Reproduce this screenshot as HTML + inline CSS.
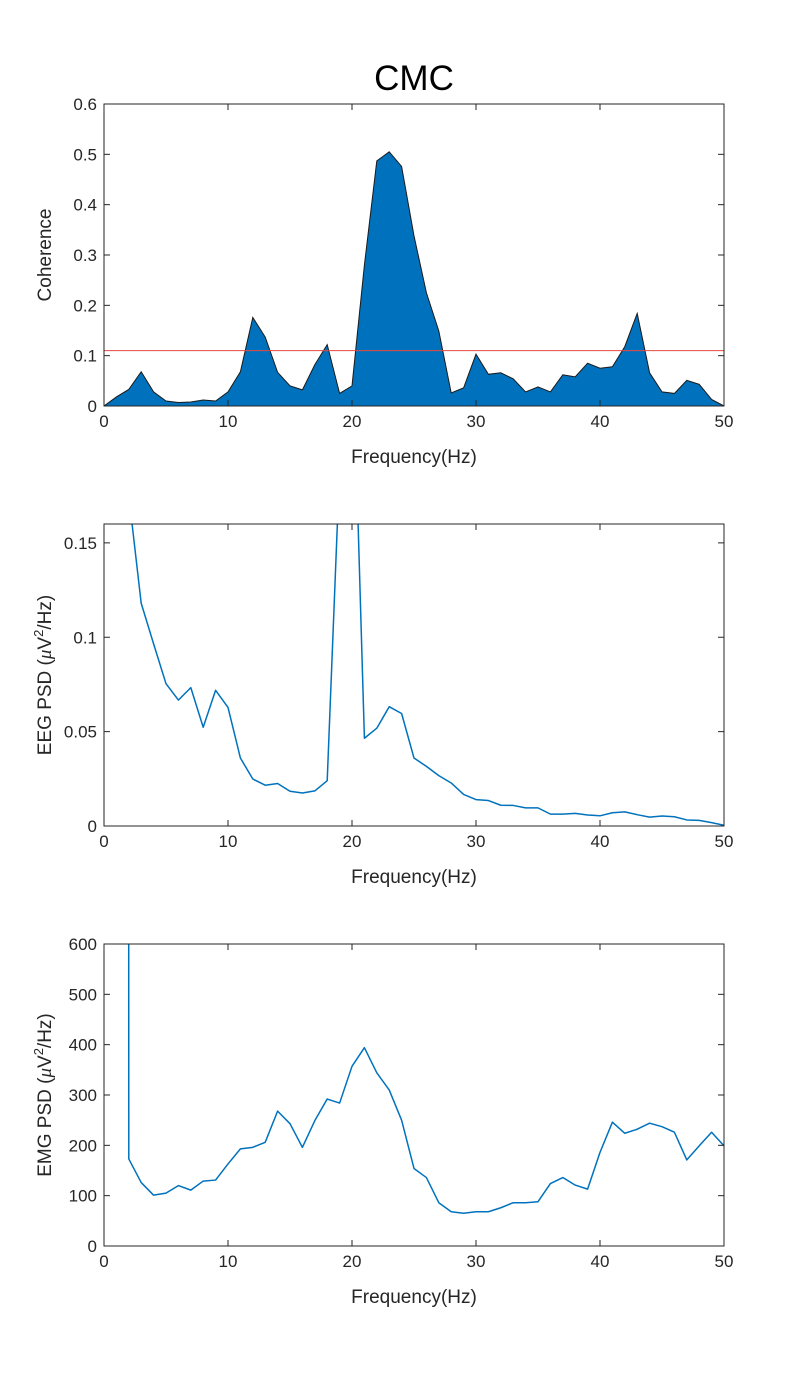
<!DOCTYPE html>
<html><head><meta charset="utf-8"><style>
body{margin:0;background:#fff;}
svg{display:block;font-family:"Liberation Sans",Helvetica,Arial,sans-serif;}
</style></head><body>
<svg id="fig" width="800" height="1400" viewBox="0 0 800 1400">
<rect width="800" height="1400" fill="#fff"/>
<text x="414" y="90" font-size="35" text-anchor="middle">CMC</text>
</svg>
<script>
const freqs = Array.from({length:51},(_,i)=>i);
const coherence = [0,0.018,0.033,0.068,0.028,0.01,0.007,0.008,0.012,0.01,0.028,0.068,0.176,0.137,0.067,0.04,0.032,0.082,0.122,0.025,0.04,0.28,0.487,0.505,0.476,0.338,0.225,0.149,0.026,0.036,0.103,0.063,0.066,0.054,0.028,0.038,0.028,0.062,0.058,0.085,0.075,0.078,0.118,0.184,0.066,0.028,0.025,0.051,0.043,0.013,0];
const threshold = 0.11;
const eegPsd = [0.6,0.3,0.175,0.118,0.0965,0.0754,0.0667,0.0733,0.0523,0.0719,0.0628,0.036,0.0249,0.0216,0.0225,0.0184,0.0175,0.0186,0.024,0.19,0.27,0.0465,0.0518,0.0632,0.0596,0.036,0.0316,0.0267,0.0228,0.0167,0.014,0.0135,0.011,0.0109,0.0096,0.0096,0.0063,0.0063,0.0067,0.0058,0.0054,0.007,0.0075,0.006,0.0047,0.0053,0.0049,0.0032,0.003,0.0018,0.0004];
const emgPsd = [60000,60000,173,126,101,105,120,111,129,131,163,193,196,206,268,243,196,249,292,284,357,394,344,310,250,154,136,86,68,65,68,68,76,86,86,88,124,136,121,113,186,246,224,232,244,237,226,171,199,226,199];
const xTicks = [0,10,20,30,40,50];
const cohTicks = [0,0.1,0.2,0.3,0.4,0.5,0.6];
const eegTicks = [0,0.05,0.1,0.15];
const emgTicks = [0,100,200,300,400,500,600];

const NS="http://www.w3.org/2000/svg";
const svg=document.getElementById('fig');
function el(tag,attrs,parent){const e=document.createElementNS(NS,tag);for(const k in attrs)e.setAttribute(k,attrs[k]);(parent||svg).appendChild(e);return e;}

function panel(name,top,yMax,yTicks,yLabelFn,drawFn){
  const L=104,R=724,T=top,B=top+302;
  const g=el('g',{});
  
  
  const xs=v=>L+(v-0)/(50-0)*(R-L);
  const ys=v=>B-v/yMax*(B-T);
  const clip=el('clipPath',{id:name+'-clip'},g);
  el('rect',{x:L,y:T,width:R-L,height:B-T},clip);
  const plot=el('g',{'clip-path':'url(#'+name+'-clip)'},g);
  drawFn(plot,xs,ys);
  const box=el('rect',{x:L,y:T,width:R-L,height:B-T,fill:'none',stroke:'#262626','stroke-width':1},g);
  
  
  xTicks.forEach(t=>{
    const x=xs(t);
    el('line',{x1:x,x2:x,y1:B,y2:B-6,stroke:'#262626'},g);
    el('line',{x1:x,x2:x,y1:T,y2:T+6,stroke:'#262626'},g);
    const tx=el('text',{x:x,y:B+21,'font-size':17,'text-anchor':'middle',fill:'#262626'},g);
    tx.textContent=t;
    
    
  });
  yTicks.forEach(t=>{
    const y=ys(t);
    el('line',{x1:L,x2:L+6,y1:y,y2:y,stroke:'#262626'},g);
    el('line',{x1:R,x2:R-6,y1:y,y2:y,stroke:'#262626'},g);
    const ty=el('text',{x:L-7,y:y+6,'font-size':17,'text-anchor':'end',fill:'#262626'},g);
    ty.textContent=t;
    
    
  });
  const xl=el('text',{x:414,y:B+57,'font-size':19,'text-anchor':'middle',fill:'#262626'},g);
  xl.textContent='Frequency(Hz)';
  
  
  const yl=el('text',{x:0,y:0,'font-size':19,'text-anchor':'middle',fill:'#262626',transform:'translate(51,'+((T+B)/2)+') rotate(-90)'},g);
  
  
  yLabelFn(yl);
}
function psdLabel(prefix){return function(t){
  const a=el('tspan',{},t);a.textContent=prefix+' PSD (';
  const m=el('tspan',{'font-family':'"Liberation Serif",serif','font-style':'italic'},t);m.textContent='μ';
  const b=el('tspan',{},t);b.textContent='V';
  const s=el('tspan',{'font-size':13,dy:-8},t);s.textContent='2';
  const c=el('tspan',{dy:8},t);c.textContent='/Hz)';
};}

panel('coherence-panel',104,0.6,cohTicks,t=>{t.textContent='Coherence';},(p,xs,ys)=>{
  let d='M'+xs(freqs[0])+','+ys(0);
  freqs.forEach((f,i)=>{d+=' L'+xs(f)+','+ys(coherence[i]);});
  d+=' L'+xs(freqs[freqs.length-1])+','+ys(0)+' Z';
  const a=el('path',{d:d,fill:'#0072bd',stroke:'#1a1a1a','stroke-width':1},p);
  
  
  const th=el('line',{x1:xs(0),x2:xs(50),y1:ys(threshold),y2:ys(threshold),stroke:'#e8473f','stroke-width':1},p);
  
  
});
function linePanel(arr,nm){return (p,xs,ys)=>{
  const d=freqs.map((f,i)=>(i?'L':'M')+xs(f)+','+ys(arr[i])).join(' ');
  const l=el('path',{d:d,fill:'none',stroke:'#0072bd','stroke-width':1.5,'stroke-linejoin':'round'},p);
  
  
};}
panel('eeg-panel',524,0.16,eegTicks,psdLabel('EEG'),linePanel(eegPsd,'eeg-psd-line'));
panel('emg-panel',944,600,emgTicks,psdLabel('EMG'),linePanel(emgPsd,'emg-psd-line'));
</script>
</body></html>
